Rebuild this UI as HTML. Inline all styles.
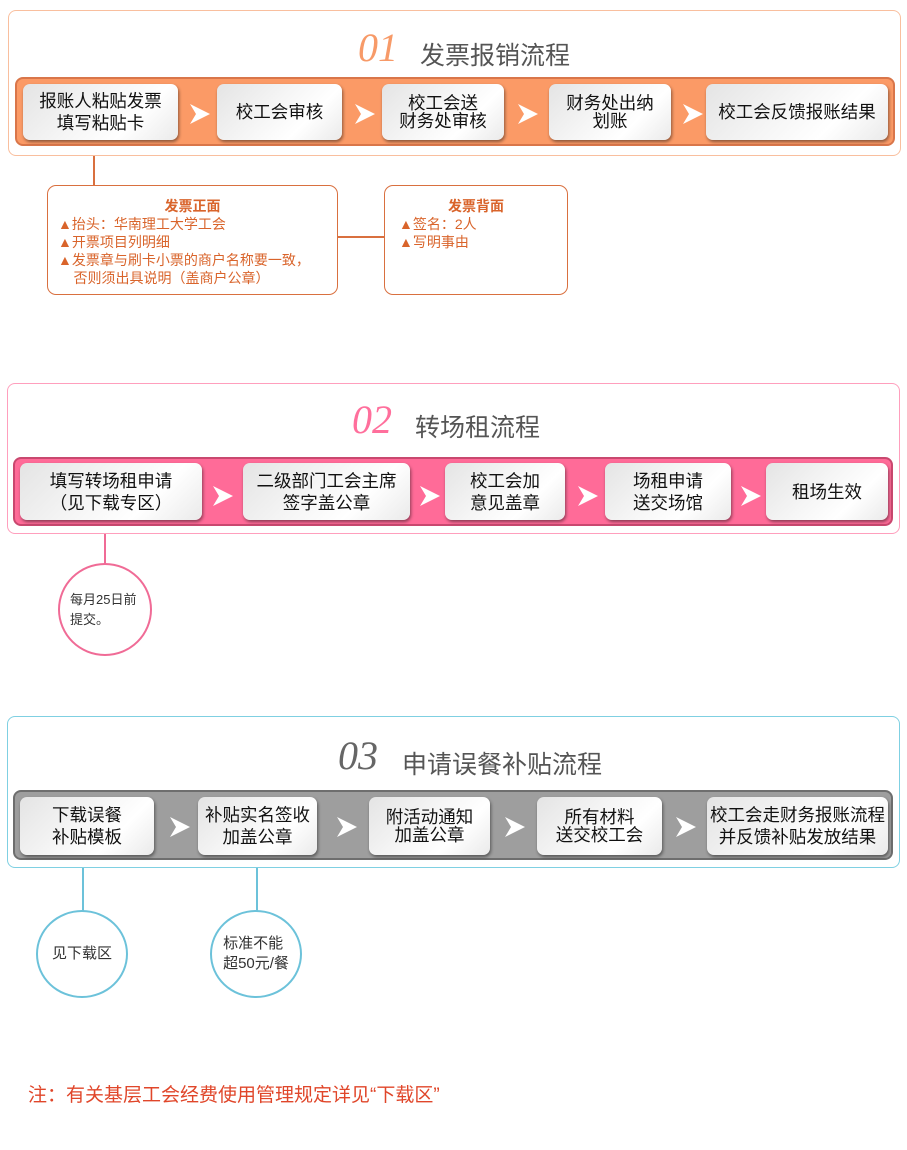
<!DOCTYPE html>
<html><head><meta charset="utf-8"><style>
*{margin:0;padding:0;box-sizing:border-box}
body{width:907px;height:1150px;background:#fff;position:relative;font-family:"Liberation Sans","Noto Sans CJK SC",sans-serif;overflow:hidden}
.a{position:absolute}
.frame{position:absolute;border-radius:8px;background:#fff}
.bar{position:absolute;border-radius:8px}
.bx{position:absolute;border-radius:7px;background:linear-gradient(135deg,#e4e4e4 0%,#f6f6f6 45%,#fff 70%,#eaeaea 100%);box-shadow:1px 2px 3px rgba(0,0,0,.45);display:flex;align-items:center;justify-content:center;text-align:center;font-size:17.5px;line-height:22px;color:#111}
.arr{position:absolute;width:20px;height:20px;background:#fff;clip-path:polygon(0 0,100% 50%,0 100%,30% 50%)}
.num{position:absolute;font-family:"Liberation Serif",serif;font-style:italic;font-size:40px}
.ttl{position:absolute;font-size:25px;color:#555}
.circ{position:absolute;border-radius:50%;background:#fff;display:flex;align-items:center;justify-content:center;font-size:15px;color:#333;line-height:20px}
</style></head><body>

<!-- Section 1 -->
<div class="frame" style="left:8px;top:10px;width:893px;height:146px;border:1px solid #f9bf9e"></div>
<div class="num" style="left:358px;top:24px;color:#f79a68">01</div>
<div class="ttl" style="left:420px;top:36px">发票报销流程</div>
<div class="bar" style="left:15px;top:77px;width:880px;height:69px;background:#fb9a66;border:2px solid #d9764a"></div>
<div class="bx" style="left:23px;top:84px;width:155px;height:56px">报账人粘贴发票<br>填写粘贴卡</div>
<div class="bx" style="left:217px;top:84px;width:125px;height:56px">校工会审核</div>
<div class="bx" style="left:382px;top:84px;width:122px;height:56px;line-height:18px">校工会送<br>财务处审核</div>
<div class="bx" style="left:549px;top:84px;width:122px;height:56px;line-height:18px">财务处出纳<br>划账</div>
<div class="bx" style="left:706px;top:84px;width:182px;height:56px">校工会反馈报账结果</div>
<div class="arr" style="left:190px;top:104px"></div>
<div class="arr" style="left:355px;top:104px"></div>
<div class="arr" style="left:518px;top:104px"></div>
<div class="arr" style="left:683px;top:104px"></div>

<div class="a" style="left:93px;top:156px;width:2px;height:29px;background:#d9703f"></div>
<div class="a" style="left:47px;top:185px;width:291px;height:110px;border:1px solid #d9703f;border-radius:9px;color:#d9642b;font-size:14px;line-height:18px;padding:11px 0 0 10px">
<div style="text-align:center;font-weight:bold;margin-right:10px">发票正面</div>
▲抬头：华南理工大学工会<br>▲开票项目列明细<br>▲发票章与刷卡小票的商户名称要一致，<br>&nbsp;&nbsp;&nbsp;&nbsp;否则须出具说明（盖商户公章）</div>
<div class="a" style="left:338px;top:236px;width:46px;height:2px;background:#d9703f"></div>
<div class="a" style="left:384px;top:185px;width:184px;height:110px;border:1px solid #d9703f;border-radius:9px;color:#d9642b;font-size:14px;line-height:18px;padding:11px 0 0 14px">
<div style="text-align:center;font-weight:bold;margin-right:14px">发票背面</div>
▲签名：2人<br>▲写明事由</div>

<!-- Section 2 -->
<div class="frame" style="left:7px;top:383px;width:893px;height:151px;border:1px solid #ff9fbd"></div>
<div class="num" style="left:352px;top:396px;color:#ff6f9c">02</div>
<div class="ttl" style="left:415px;top:408px">转场租流程</div>
<div class="bar" style="left:13px;top:457px;width:880px;height:69px;background:#ff6b98;border:2px solid #c9486f"></div>
<div class="bx" style="left:20px;top:463px;width:182px;height:57px">填写转场租申请<br>（见下载专区）</div>
<div class="bx" style="left:243px;top:463px;width:167px;height:57px">二级部门工会主席<br>签字盖公章</div>
<div class="bx" style="left:445px;top:463px;width:120px;height:57px">校工会加<br>意见盖章</div>
<div class="bx" style="left:605px;top:463px;width:126px;height:57px">场租申请<br>送交场馆</div>
<div class="bx" style="left:766px;top:463px;width:122px;height:57px">租场生效</div>
<div class="arr" style="left:213px;top:486px"></div>
<div class="arr" style="left:420px;top:486px"></div>
<div class="arr" style="left:578px;top:486px"></div>
<div class="arr" style="left:741px;top:486px"></div>
<div class="a" style="left:104px;top:534px;width:2px;height:30px;background:#f06b96"></div>
<div class="circ" style="left:58px;top:563px;width:94px;height:93px;border:2px solid #f06b96;font-size:13px;justify-content:flex-start;padding-left:10px">每月25日前<br>提交。</div>

<!-- Section 3 -->
<div class="frame" style="left:7px;top:716px;width:893px;height:152px;border:1px solid #7fd0e2"></div>
<div class="num" style="left:338px;top:732px;color:#666">03</div>
<div class="ttl" style="left:402px;top:745px">申请误餐补贴流程</div>
<div class="bar" style="left:13px;top:790px;width:880px;height:70px;background:#9e9e9e;border:2px solid #6e6e6e"></div>
<div class="bx" style="left:20px;top:797px;width:134px;height:58px">下载误餐<br>补贴模板</div>
<div class="bx" style="left:198px;top:797px;width:119px;height:58px">补贴实名签收<br>加盖公章</div>
<div class="bx" style="left:369px;top:797px;width:121px;height:58px;line-height:18px">附活动通知<br>加盖公章</div>
<div class="bx" style="left:537px;top:797px;width:125px;height:58px;line-height:18px">所有材料<br>送交校工会</div>
<div class="bx" style="left:707px;top:797px;width:181px;height:58px">校工会走财务报账流程<br>并反馈补贴发放结果</div>
<div class="arr" style="left:170px;top:817px"></div>
<div class="arr" style="left:337px;top:817px"></div>
<div class="arr" style="left:505px;top:817px"></div>
<div class="arr" style="left:676px;top:817px"></div>
<div class="a" style="left:82px;top:868px;width:2px;height:43px;background:#6cc2da"></div>
<div class="circ" style="left:36px;top:910px;width:92px;height:88px;border:2px solid #6cc2da">见下载区</div>
<div class="a" style="left:256px;top:868px;width:2px;height:43px;background:#6cc2da"></div>
<div class="circ" style="left:210px;top:910px;width:92px;height:88px;border:2px solid #6cc2da">标准不能<br>超50元/餐</div>

<div class="a" style="left:28px;top:1080px;font-size:19px;color:#e0462a">注：有关基层工会经费使用管理规定详见“下载区”</div>
</body></html>
